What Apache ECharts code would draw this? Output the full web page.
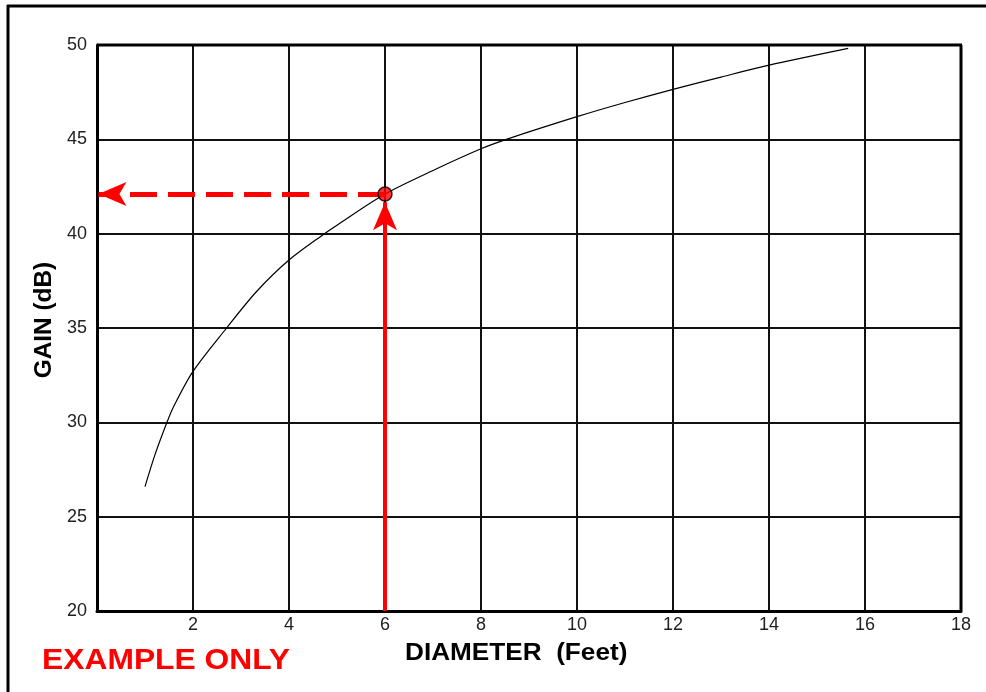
<!DOCTYPE html>
<html>
<head>
<meta charset="utf-8">
<script src="https://cdn.jsdelivr.net/npm/echarts@6/dist/echarts.min.js"></script>
<style>html,body{margin:0;padding:0;background:#fff}#c{width:986px;height:692px}</style>
</head>
<body>
<div id="c"></div>
<script>
// Curve: diameter (feet) vs gain (dB)
const diameter = [1.0, 1.21, 1.45, 1.59, 2.0, 2.7, 3.32, 4.0, 4.74, 5.0, 6.0, 7.0, 8.0, 8.53, 10.0, 11.0, 12.0, 13.0, 14.0, 15.65];
const gain     = [26.59, 28.3, 29.95, 30.8, 32.7, 35.0, 36.92, 38.6, 40.0, 40.45, 42.1, 43.35, 44.5, 45.0, 46.2, 46.95, 47.65, 48.3, 48.93, 49.82];
const examplePoint = [6, 42.1];
const xTicks = [2, 4, 6, 8, 10, 12, 14, 16, 18];
const yTicks = [20, 25, 30, 35, 40, 45, 50];
const xTitle = 'DIAMETER  (Feet)';
const yTitle = 'GAIN (dB)';
const note = 'EXAMPLE ONLY';

const chart = echarts.init(document.getElementById('c'));
const font = 'Liberation Sans, Arial, sans-serif';
chart.setOption({
  animation: false,
  backgroundColor: '#fff',
  grid: {left: 97, right: 25, top: 45, bottom: 81, containLabel: false},
  xAxis: {
    type: 'value', min: 0, max: 18, interval: 2,
    axisLine: {show: true, onZero: false, lineStyle: {color: '#000', width: 3}},
    axisTick: {show: false},
    splitLine: {show: true, lineStyle: {color: '#111', width: 2}},
    axisLabel: {
      color: '#222', fontSize: 18, fontFamily: font, margin: 5,
      formatter: v => xTicks.includes(v) ? String(v) : ''
    }
  },
  yAxis: {
    type: 'value', min: 20, max: 50, interval: 5,
    axisLine: {show: true, onZero: false, lineStyle: {color: '#000', width: 3}},
    axisTick: {show: false},
    splitLine: {show: true, lineStyle: {color: '#111', width: 2}},
    axisLabel: {
      color: '#222', fontSize: 18, fontFamily: font, margin: 10,
      formatter: v => yTicks.includes(v) ? String(v) : ''
    }
  },
  graphic: [
    {type: 'line', shape: {x1: 7, y1: 6, x2: 986, y2: 6}, style: {stroke: '#000', lineWidth: 3}},
    {type: 'line', shape: {x1: 8, y1: 5, x2: 8, y2: 692}, style: {stroke: '#000', lineWidth: 3}},
    {type: 'line', shape: {x1: 961, y1: 45, x2: 961, y2: 611}, style: {stroke: '#000', lineWidth: 3}, z: 5},
    {type: 'line', shape: {x1: 97, y1: 45, x2: 962, y2: 45}, style: {stroke: '#000', lineWidth: 3}, z: 5},
    {type: 'text', x: 405, y: 653, scaleX: 1.09,
      style: {text: xTitle, font: 'bold 24px ' + font, fill: '#000', align: 'left', verticalAlign: 'middle'}},
    {type: 'text', x: 42, y: 661, scaleX: 1.06,
      style: {text: note, font: 'bold 30px ' + font, fill: '#ff0000', align: 'left', verticalAlign: 'middle'}},
    {type: 'text', x: 45, y: 320, rotation: Math.PI / 2, scaleX: 1.06,
      style: {text: yTitle, font: 'bold 23px ' + font, fill: '#000', align: 'center', verticalAlign: 'middle'}}
  ],
  series: [
    {
      type: 'line', data: diameter.map((d, i) => [d, gain[i]]),
      smooth: 0.3, symbol: 'none',
      lineStyle: {color: '#000', width: 1.2}, z: 3
    },
    {
      type: 'line', data: [], symbol: 'none',
      markLine: {
        silent: true, animation: false,
        label: {show: false},
        symbol: ['none', 'arrow'], symbolSize: [18, 28],
        data: [
          [{coord: [examplePoint[0], examplePoint[1]], lineStyle: {color: '#ff0000', width: 5, type: [27, 11]}},
           {coord: [0.03, examplePoint[1]]}],
          [{coord: [examplePoint[0], 20], lineStyle: {color: '#ff0000', width: 4, type: 'solid'}},
           {coord: [examplePoint[0], 41.67]}]
        ]
      },
      z: 4
    },
    {
      type: 'scatter', data: [examplePoint], symbolSize: 14,
      itemStyle: {color: '#ff0000', borderColor: '#000', borderWidth: 1.5}, z: 6
    }
  ]
});
</script>
</body>
</html>
